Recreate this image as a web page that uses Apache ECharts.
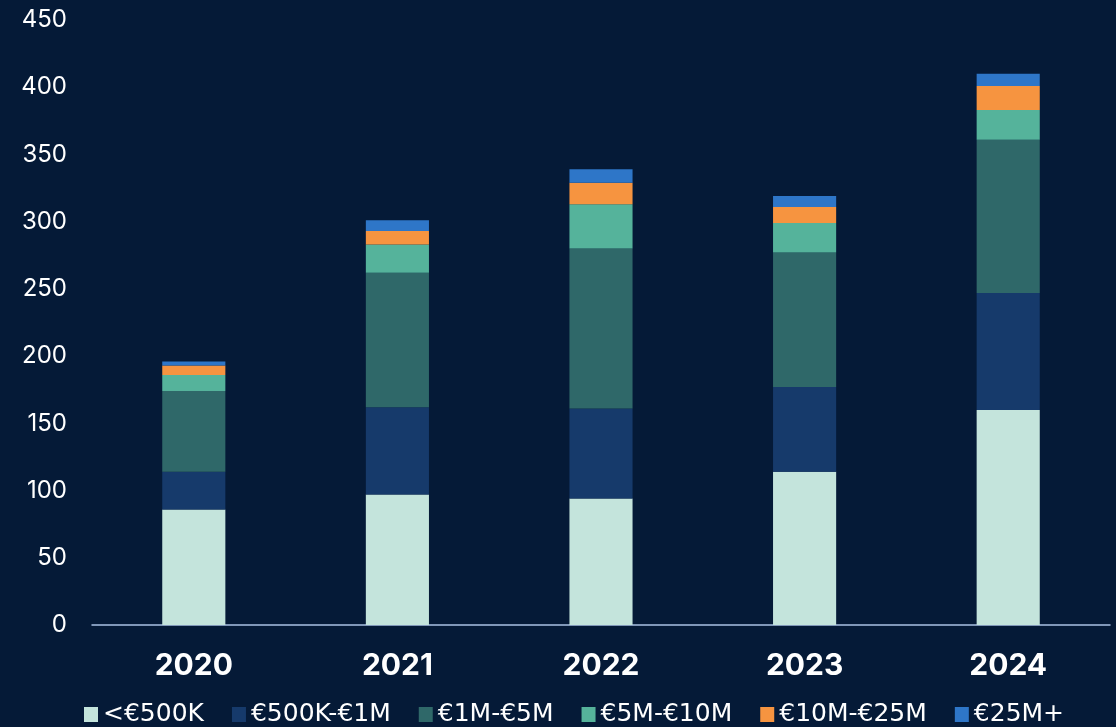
<!DOCTYPE html>
<html>
<head>
<meta charset="utf-8">
<script src="https://cdn.jsdelivr.net/npm/echarts@6/dist/echarts.min.js"></script>
<style>
  html, body { margin: 0; padding: 0; background: #051a37; }
  #chart { width: 1116px; height: 727px; }
</style>
</head>
<body>
<div id="chart"></div>
<script>
// Deal counts by ticket size, per year
const years = ['2020', '2021', '2022', '2023', '2024'];
const seriesNames = ['<€500K', '€500K-€1M', '€1M-€5M', '€5M-€10M', '€10M-€25M', '€25M+'];
const under500k    = [86, 97, 94, 114, 160];
const from500kTo1m = [28, 65, 67, 63, 87];
const from1mTo5m   = [60, 100, 119, 100, 114];
const from5mTo10m  = [12, 21, 33, 22, 22];
const from10mTo25m = [7, 10, 16, 12, 18];
const over25m      = [3, 8, 10, 8, 9];
const yTicks = [0, 50, 100, 150, 200, 250, 300, 350, 400, 450];

const colors = ['#c4e4dc', '#163a6b', '#2f6869', '#55b39b', '#f69440', '#2e76c8'];
const values = [under500k, from500kTo1m, from1mTo5m, from5mTo10m, from10mTo25m, over25m];

const chart = echarts.init(document.getElementById('chart'));
chart.setOption({
  backgroundColor: '#051a37',
  animation: false,
  color: colors,
  grid: { left: 92, right: 6, top: 20, bottom: 102, containLabel: false },
  legend: {
    top: 697,
    left: 79,
    padding: 5,
    itemWidth: 14,
    itemHeight: 15,
    itemGap: 28,
    icon: 'rect',
    textStyle: { color: '#ffffff', fontSize: 25, lineHeight: 25, fontFamily: 'DejaVu Sans' },
    data: seriesNames
  },
  xAxis: {
    type: 'category',
    data: years,
    axisLine: { lineStyle: { color: '#a9c1e4', width: 1.5 } },
    axisTick: { show: false },
    axisLabel: { color: '#ffffff', fontSize: 30, fontWeight: 'bold', fontFamily: 'Inter', margin: 26 }
  },
  yAxis: {
    type: 'value',
    min: yTicks[0],
    max: yTicks[yTicks.length - 1],
    interval: 50,
    splitLine: { show: false },
    axisLine: { show: false },
    axisTick: { show: false },
    axisLabel: { color: '#ffffff', fontSize: 24, fontFamily: 'Inter', margin: 25 }
  },
  series: seriesNames.map((name, i) => ({
    name,
    type: 'bar',
    stack: 'total',
    barWidth: '31%',
    data: values[i],
    itemStyle: { color: colors[i] }
  }))
});
</script>
</body>
</html>
